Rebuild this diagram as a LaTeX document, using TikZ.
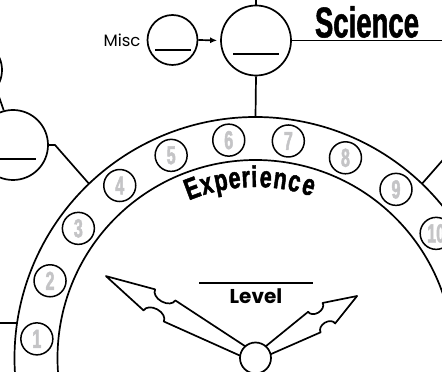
\documentclass[tikz,border=0pt]{standalone}
\usepackage{fontspec}
\setmainfont{Poppins}
\newfontfamily\condfont[FakeStretch=0.64,FakeBold=1.2]{Liberation Sans Bold}
\newfontfamily\numfont[FakeStretch=0.62,FakeBold=1.8]{Liberation Sans Bold}
\newfontfamily\expfont[FakeStretch=0.72,FakeBold=1.5]{Liberation Sans Bold}
\usetikzlibrary{arrows.meta,calc}
\definecolor{numgray}{RGB}{196,196,198}
\begin{document}
\begin{tikzpicture}[x=1pt,y=1pt,
  wire/.style={line width=1.7pt},
  blank/.style={line width=1.8pt},
  ring/.style={circle,draw,line width=1.7pt,inner sep=0pt,fill=white},
  numcirc/.style={circle,draw,line width=1.5pt,minimum size=32pt,inner sep=0pt,text=numgray,
    font=\numfont\fontsize{26}{26}\selectfont},
  hand/.style={draw,fill=white,line width=1.7pt,line join=round},
  expl/.style={font=\expfont\fontsize{30}{30}\selectfont,inner sep=0pt,anchor=base}
]
\useasboundingbox (0,0) rectangle (442,372);
\clip (0,0) rectangle (442,372);
\coordinate (C) at (255.5,14);
% experience band
\draw[wire] (C) ++(-8:241) arc[start angle=-8,end angle=188,radius=241];
\draw[wire] (C) ++(-8:198) arc[start angle=-8,end angle=188,radius=198];
% circles
\node[ring,minimum size=70pt] (sci) at (256,331.5) {};
\node[ring,minimum size=50pt] (misc) at (172.5,332) {};
\node[ring,minimum size=70pt] (left) at (13,227) {};
\node[ring,minimum size=60pt] (topleft) at (-28,302) {};
% blanks
\draw[blank] ($(sci.center)+(-23,-13.5)$) -- ++(46,0);
\draw[blank] ($(misc.center)+(-17.5,-10)$) -- ++(36,0);
\draw[blank] ($(left.center)+(-23,-14)$) -- ++(46,0);
% connectors
\coordinate (topout) at ($(C)+(90:241)$);
\coordinate (topend) at (256,380);
\coordinate (rightend) at (450,331.5);
\draw[wire] (sci.south) -- (topout);
\draw[wire] (sci.north) -- (topend);
\draw[wire] (sci.east) -- (rightend);
\draw[wire,-{Latex[length=7pt,width=6pt]},shorten >=3pt] (misc.east) -- (sci.west);
\node[anchor=east,font=\fontsize{16.5}{16.5}\selectfont,inner sep=0pt] (misclabel) at ([xshift=-6pt]misc.west) {Misc};
\coordinate (lbend) at (55,227);
\coordinate (lout) at ($(C)+(133.7:241)$);
\draw[wire] (left.east) -- (lbend) -- (lout);
\coordinate (rout) at ($(C)+(46.3:241)$);
\coordinate (rbend) at (456,227);
\draw[wire] (rout) -- (rbend);
\draw[wire] (topleft.-38) -- (left.105);
\coordinate (blout) at ($(C)+(171.65:241)$);
\coordinate (blend) at (-20,49);
\draw[wire] (blend) -- (blout);
% numbers
\foreach \i in {1,...,10}{
  \node[numcirc] (n\i) at ($(C)+({175-15.6*(\i-1)}:219.5)$) {\i};
}
% Experience
\foreach \ch/\ang [count=\k] in {E/110.5,x/105.8,p/101.1,e/96.7,r/93.1,i/90.4,e/86.7,n/82.1,c/77.5,e/72.8}{
  \node[expl,rotate=\ang-90] (exp\k) at ($(C)+(\ang:171)$) {\ch};
}
% hands
\begin{scope}[shift={(C)},rotate=151.3]
\draw[hand] (10,5) -- (98,12) arc[start angle=180,end angle=360,x radius=11.5,y radius=7.5]
  -- (170.5,0) -- (121,-12) arc[start angle=0,end angle=180,x radius=11.5,y radius=7.5]
  -- (10,-5) -- cycle;
\end{scope}
\begin{scope}[shift={(C)},rotate=31.4]
\draw[hand] (10,4) -- (69,12) arc[start angle=180,end angle=360,x radius=8.5,y radius=6]
  -- (119,0) -- (86,-12) arc[start angle=0,end angle=180,x radius=8.5,y radius=6]
  -- (10,-4) -- cycle;
\end{scope}
\node[ring,minimum size=31pt] (hub) at (C) {};
% Level
\coordinate (lvlL) at (199,88.7);
\coordinate (lvlR) at (313,88.7);
\draw[blank] (lvlL) -- (lvlR);
\node[font=\bfseries\fontsize{20}{20}\selectfont,inner sep=0pt] (level) at (256,76) {Level};
% Science
\node[font=\condfont\fontsize{43}{43}\selectfont,inner sep=0pt] (science) at (367,350) {Science};
\end{tikzpicture}
\end{document}
